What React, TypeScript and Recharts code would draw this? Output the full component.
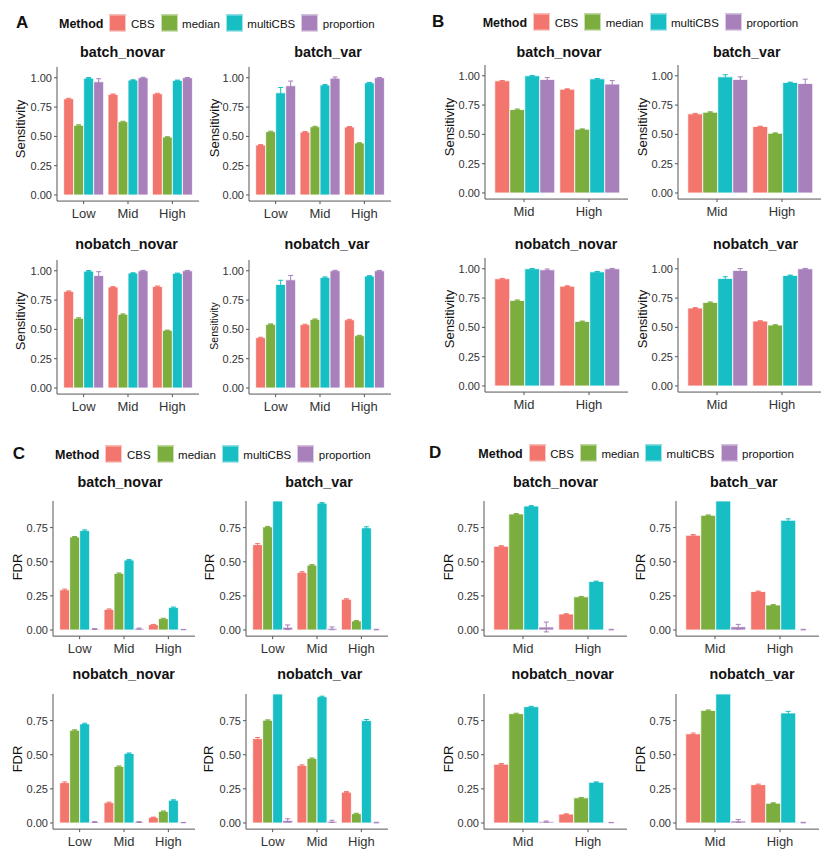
import React from "react";
import { BarChart, Bar, XAxis, YAxis, ErrorBar } from "recharts";

const methods = ["CBS", "median", "multiCBS", "proportion"];
const methodColors = ["#F3766E", "#7CAE3F", "#17BEC4", "#A780BC"];

const levels3 = ["Low", "Mid", "High"];
const levels2 = ["Mid", "High"];

const sensTicks = [0, 0.25, 0.5, 0.75, 1];
const fdrTicks = [0, 0.25, 0.5, 0.75];

// rows: CBS, median, multiCBS, proportion
// A: sensitivity, Low / Mid / High
const aBatchNovar = [[0.821, 0.858, 0.864], [0.594, 0.625, 0.494], [0.997, 0.98, 0.977], [0.966, 1.0, 1.0]];
const aBatchNovarErr = [[0.004, 0.004, 0.004], [0.005, 0.004, 0.003], [0.005, 0.003, 0.003], [0.026, 0.004, 0.003]];
const aBatchVar = [[0.426, 0.537, 0.58], [0.54, 0.582, 0.443], [0.872, 0.938, 0.957], [0.932, 0.997, 1.0]];
const aBatchVarErr = [[0.004, 0.004, 0.004], [0.004, 0.004, 0.003], [0.045, 0.005, 0.003], [0.04, 0.01, 0.003]];
const aNobatchNovar = [[0.824, 0.861, 0.866], [0.594, 0.628, 0.491], [0.997, 0.98, 0.977], [0.96, 1.0, 1.0]];
const aNobatchNovarErr = [[0.004, 0.004, 0.004], [0.005, 0.004, 0.003], [0.005, 0.003, 0.003], [0.032, 0.003, 0.003]];
const aNobatchVar = [[0.429, 0.54, 0.582], [0.543, 0.585, 0.446], [0.884, 0.943, 0.955], [0.923, 1.0, 1.0]];
const aNobatchVarErr = [[0.004, 0.004, 0.004], [0.004, 0.004, 0.003], [0.035, 0.005, 0.003], [0.037, 0.004, 0.003]];

// B: sensitivity, Mid / High
const bBatchNovar = [[0.957, 0.886], [0.712, 0.544], [1.0, 0.974], [0.969, 0.929]];
const bBatchNovarErr = [[0.003, 0.003], [0.004, 0.003], [0.002, 0.003], [0.015, 0.03]];
const bBatchVar = [[0.675, 0.567], [0.689, 0.51], [0.991, 0.943], [0.969, 0.934]];
const bBatchVarErr = [[0.004, 0.003], [0.004, 0.003], [0.018, 0.003], [0.022, 0.037]];
const bNobatchNovar = [[0.915, 0.852], [0.73, 0.551], [1.0, 0.974], [0.991, 1.0]];
const bNobatchNovarErr = [[0.003, 0.003], [0.004, 0.003], [0.002, 0.003], [0.007, 0.003]];
const bNobatchVar = [[0.665, 0.554], [0.713, 0.52], [0.918, 0.943], [0.986, 1.0]];
const bNobatchVarErr = [[0.004, 0.003], [0.004, 0.003], [0.014, 0.003], [0.016, 0.003]];

// C: FDR, Low / Mid / High (tallest multiCBS bars run off the top of the panel)
const cBatchNovar = [[0.294, 0.15, 0.039], [0.681, 0.414, 0.083], [0.728, 0.512, 0.164], [0.007, 0.01, 0.003]];
const cBatchNovarErr = [[0.006, 0.004, 0.002], [0.004, 0.004, 0.003], [0.005, 0.004, 0.004], [0.003, 0.004, 0.001]];
const cBatchVar = [[0.625, 0.422, 0.225], [0.755, 0.475, 0.066], [0.945, 0.929, 0.748], [0.02, 0.012, 0.003]];
const cBatchVarErr = [[0.008, 0.005, 0.004], [0.004, 0.004, 0.003], [0, 0.004, 0.008], [0.017, 0.01, 0.002]];
const cNobatchNovar = [[0.295, 0.149, 0.041], [0.679, 0.414, 0.085], [0.726, 0.509, 0.166], [0.007, 0.007, 0.003]];
const cNobatchNovarErr = [[0.006, 0.004, 0.002], [0.004, 0.004, 0.003], [0.005, 0.004, 0.004], [0.003, 0.003, 0.001]];
const cNobatchVar = [[0.618, 0.421, 0.226], [0.752, 0.472, 0.068], [0.945, 0.925, 0.75], [0.019, 0.012, 0.003]];
const cNobatchVarErr = [[0.008, 0.005, 0.004], [0.004, 0.004, 0.003], [0, 0.004, 0.008], [0.012, 0.008, 0.002]];

// D: FDR, Mid / High
const dBatchNovar = [[0.614, 0.117], [0.85, 0.243], [0.908, 0.355], [0.022, 0.003]];
const dBatchNovarErr = [[0.004, 0.002], [0.003, 0.003], [0.003, 0.003], [0.036, 0.002]];
const dBatchVar = [[0.694, 0.282], [0.84, 0.183], [0.945, 0.804], [0.024, 0.003]];
const dBatchVarErr = [[0.005, 0.003], [0.003, 0.003], [0, 0.01], [0.017, 0.002]];
const dNobatchNovar = [[0.431, 0.065], [0.801, 0.184], [0.852, 0.298], [0.01, 0.003]];
const dNobatchNovarErr = [[0.005, 0.002], [0.003, 0.003], [0.003, 0.003], [0.004, 0.001]];
const dNobatchVar = [[0.653, 0.281], [0.825, 0.145], [0.945, 0.806], [0.015, 0.003]];
const dNobatchVarErr = [[0.006, 0.004], [0.003, 0.003], [0, 0.012], [0.01, 0.002]];

const sensDomain = [-0.052, 1.092];
const fdrDomain = [-0.045, 0.945];

const FONT = "'Liberation Sans', Arial, Helvetica, sans-serif";
const TEXT = "#333";
const LINE = "#555";

const YW = 50;
const MT = 4;
const MR = 4;
const XH = 30;

function buildRows(categories, values, errors) {
  return categories.map((cat, i) => {
    const row: any = { cat };
    methods.forEach((m, j) => {
      row[m] = values[j][i];
      row[m + "_err"] = errors[j][i];
    });
    return row;
  });
}

function Subplot(p) {
  const top = p.zeroY - p.domain[1] * p.ppu;
  const bottom = p.zeroY - p.domain[0] * p.ppu;
  const plotW = p.right - p.left;
  const plotH = bottom - top;
  const n = p.categories.length;
  const unit = plotW / (n + 0.2);
  const pad = unit * 0.1;
  const data = buildRows(p.categories, p.values, p.errors);
  return (
    <>
      <div
        style={{
          position: "absolute",
          left: p.titleX,
          top: p.titleY,
          transform: "translate(-50%, -50%)",
          fontFamily: FONT,
          fontWeight: "bold",
          fontSize: 14.3,
          lineHeight: 1,
          whiteSpace: "nowrap",
          color: "#111",
        }}
      >
        {p.title}
      </div>
      <div
        style={{
          position: "absolute",
          left: p.labelX,
          top: p.labelY,
          transform: "translate(-50%, -50%) rotate(-90deg)",
          fontFamily: FONT,
          fontSize: p.labelSize || 13,
          lineHeight: 1,
          whiteSpace: "nowrap",
          color: "#111",
        }}
      >
        {p.yLabel}
      </div>
      <div style={{ position: "absolute", left: p.left - YW, top: top - MT }}>
        <BarChart
          width={plotW + YW + MR}
          height={plotH + MT + XH}
          data={data}
          margin={{ top: MT, right: MR, bottom: 0, left: 0 }}
          barCategoryGap="5%"
          barGap={0}
        >
          <XAxis
            dataKey="cat"
            interval={0}
            height={XH}
            padding={{ left: pad, right: pad }}
            tickSize={3}
            tickMargin={5}
            axisLine={{ stroke: LINE, strokeWidth: 1 }}
            tickLine={{ stroke: LINE }}
            tick={{ fontSize: 13, fill: TEXT, fontFamily: FONT }}
          />
          <YAxis
            type="number"
            width={YW}
            domain={p.domain}
            allowDataOverflow
            ticks={p.ticks}
            interval={0}
            tickFormatter={(v) => v.toFixed(2)}
            tickSize={3}
            tickMargin={2}
            axisLine={{ stroke: LINE, strokeWidth: 1 }}
            tickLine={{ stroke: LINE }}
            tick={{ fontSize: 11, fill: TEXT, fontFamily: FONT }}
          />
          {methods.map((m, j) => (
            <Bar
              key={m}
              dataKey={m}
              fill={methodColors[j]}
              stroke="#fff"
              strokeWidth={0.8}
              isAnimationActive={false}
            >
              <ErrorBar dataKey={m + "_err"} width={2.5} stroke={methodColors[j]} strokeWidth={1} />
            </Bar>
          ))}
        </BarChart>
      </div>
    </>
  );
}

function Legend({ letter, letterX, x, cy }) {
  return (
    <>
      <div
        style={{
          position: "absolute",
          left: letterX,
          top: cy - 1,
          transform: "translateY(-50%)",
          fontFamily: FONT,
          fontWeight: "bold",
          fontSize: 17,
          lineHeight: 1,
          color: "#111",
        }}
      >
        {letter}
      </div>
      <div
        style={{
          position: "absolute",
          left: x,
          top: cy,
          transform: "translateY(-50%)",
          display: "flex",
          alignItems: "center",
          fontFamily: FONT,
          whiteSpace: "nowrap",
          color: "#111",
        }}
      >
        <span style={{ fontWeight: "bold", fontSize: 12.5, marginRight: 6 }}>Method</span>
        {methods.map((m, j) => (
          <span key={m} style={{ display: "flex", alignItems: "center", marginRight: 6 }}>
            <span
              style={{
                display: "inline-block",
                width: 17,
                height: 17,
                background: methodColors[j],
                boxShadow: "inset 0 0 0 1px rgba(255,255,255,0.6)",
                marginRight: 4.5,
              }}
            />
            <span style={{ fontSize: 11.5 }}>{m}</span>
          </span>
        ))}
      </div>
    </>
  );
}

const sens = { domain: sensDomain, ticks: sensTicks, ppu: 117.2, yLabel: "Sensitivity" };
const fdr = { domain: fdrDomain, ticks: fdrTicks, ppu: 136.5, yLabel: "FDR" };

const subplots = [
  // A
  { ...sens, title: "batch_novar", categories: levels3, values: aBatchNovar, errors: aBatchNovarErr, left: 57, right: 199, zeroY: 195.3, titleX: 122.5, titleY: 52, labelX: 20, labelY: 129 },
  { ...sens, title: "batch_var", categories: levels3, values: aBatchVar, errors: aBatchVarErr, left: 248.5, right: 390.5, zeroY: 195.3, titleX: 328, titleY: 52, labelX: 214, labelY: 128 },
  { ...sens, title: "nobatch_novar", categories: levels3, values: aNobatchNovar, errors: aNobatchNovarErr, left: 57, right: 199, zeroY: 387.7, titleX: 126.5, titleY: 243.5, labelX: 20, labelY: 321 },
  { ...sens, title: "nobatch_var", categories: levels3, values: aNobatchVar, errors: aNobatchVarErr, left: 249, right: 391, zeroY: 387.7, titleX: 327, titleY: 243.5, labelX: 214, labelY: 326, labelSize: 10.5 },
  // B
  { ...sens, title: "batch_novar", categories: levels2, values: bBatchNovar, errors: bBatchNovarErr, left: 485, right: 628, zeroY: 193.3, titleX: 559, titleY: 52, labelX: 449.3, labelY: 126.7 },
  { ...sens, title: "batch_var", categories: levels2, values: bBatchVar, errors: bBatchVarErr, left: 677.7, right: 820.7, zeroY: 193.3, titleX: 746.7, titleY: 52, labelX: 641.7, labelY: 126.7 },
  { ...sens, title: "nobatch_novar", categories: levels2, values: bNobatchNovar, errors: bNobatchNovarErr, left: 485, right: 628, zeroY: 385.7, titleX: 566, titleY: 243.5, labelX: 449.3, labelY: 318.8 },
  { ...sens, title: "nobatch_var", categories: levels2, values: bNobatchVar, errors: bNobatchVarErr, left: 677.7, right: 820.7, zeroY: 385.7, titleX: 755.5, titleY: 243.5, labelX: 641.7, labelY: 318.8 },
  // C
  { ...fdr, title: "batch_novar", categories: levels3, values: cBatchNovar, errors: cBatchNovarErr, left: 53, right: 195, zeroY: 630.3, titleX: 120, titleY: 482, labelX: 16.7, labelY: 566.7 },
  { ...fdr, title: "batch_var", categories: levels3, values: cBatchVar, errors: cBatchVarErr, left: 245.5, right: 387.5, zeroY: 630.3, titleX: 319, titleY: 482, labelX: 209, labelY: 566.7 },
  { ...fdr, title: "nobatch_novar", categories: levels3, values: cNobatchNovar, errors: cNobatchNovarErr, left: 53, right: 195, zeroY: 822.7, titleX: 123.7, titleY: 673.5, labelX: 16.7, labelY: 758.8 },
  { ...fdr, title: "nobatch_var", categories: levels3, values: cNobatchVar, errors: cNobatchVarErr, left: 245.5, right: 387.5, zeroY: 822.7, titleX: 319.7, titleY: 673.5, labelX: 208.3, labelY: 758.8 },
  // D
  { ...fdr, title: "batch_novar", categories: levels2, values: dBatchNovar, errors: dBatchNovarErr, left: 483.5, right: 626.5, zeroY: 630.3, titleX: 555.5, titleY: 482, labelX: 448.3, labelY: 566.7 },
  { ...fdr, title: "batch_var", categories: levels2, values: dBatchVar, errors: dBatchVarErr, left: 675.5, right: 818.5, zeroY: 630.3, titleX: 743.8, titleY: 482, labelX: 640, labelY: 566.7 },
  { ...fdr, title: "nobatch_novar", categories: levels2, values: dNobatchNovar, errors: dNobatchNovarErr, left: 484, right: 627, zeroY: 822.7, titleX: 562.7, titleY: 674.3, labelX: 448.3, labelY: 758.8 },
  { ...fdr, title: "nobatch_var", categories: levels2, values: dNobatchVar, errors: dNobatchVarErr, left: 676, right: 819, zeroY: 822.7, titleX: 752, titleY: 674.3, labelX: 640, labelY: 758.8 },
];

export default function App() {
  return (
    <div
      style={{
        position: "absolute",
        left: 0,
        top: 0,
        width: 830,
        height: 851,
        background: "#fff",
        overflow: "hidden",
      }}
    >
      <Legend letter="A" letterX={16} x={59} cy={23} />
      <Legend letter="B" letterX={432} x={482.7} cy={22.3} />
      <Legend letter="C" letterX={12.7} x={55} cy={454} />
      <Legend letter="D" letterX={429} x={478.3} cy={453.3} />
      {subplots.map((s, i) => (
        <Subplot key={i} {...s} />
      ))}
    </div>
  );
}
